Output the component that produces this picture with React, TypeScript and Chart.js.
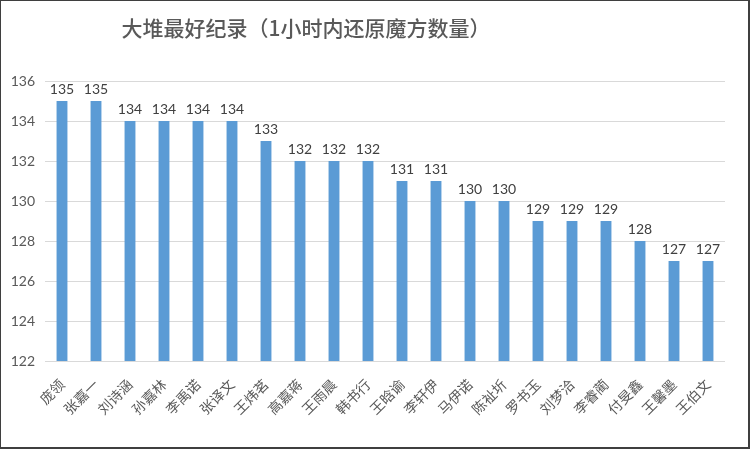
import { useEffect, useRef } from "react";
import { Chart, registerables } from "chart.js";

Chart.register(...registerables);

const chartTitle = "大堆最好纪录（1小时内还原魔方数量）";

const names = [
  "庞领", "张嘉一", "刘诗涵", "孙嘉林", "李禹诺", "张译文", "王炜茗",
  "高嘉蒋", "王雨晨", "韩书行", "王晗谕", "李轩伊", "马伊诺", "陈祉圻",
  "罗书玉", "刘梦洽", "李睿蔺", "付旻鑫", "王馨墨", "王伯文",
];

const cubes = [
  135, 135, 134, 134, 134, 134, 133, 132, 132, 132,
  131, 131, 130, 130, 129, 129, 129, 128, 127, 127,
];

const yMin = 122;
const yMax = 136;
const yStep = 2;

// value labels above bars
const valueLabels = {
  id: "valueLabels",
  afterDatasetsDraw(chart: Chart) {
    const { ctx } = chart;
    const meta = chart.getDatasetMeta(0);
    ctx.save();
    ctx.font = "14px Lato, 'Open Sans', sans-serif";
    ctx.fillStyle = "#404040";
    ctx.textAlign = "center";
    ctx.textBaseline = "bottom";
    meta.data.forEach((bar: any, i: number) => {
      ctx.fillText(String(cubes[i]), bar.x, bar.y - 5);
    });
    ctx.restore();
  },
};

// title sits left of centre in the original
const offsetTitle = {
  id: "offsetTitle",
  afterDraw(chart: Chart) {
    const { ctx } = chart;
    ctx.save();
    ctx.font = "500 21px 'Noto Sans CJK SC', sans-serif";
    ctx.fillStyle = "#595959";
    ctx.textAlign = "center";
    ctx.textBaseline = "middle";
    ctx.fillText(chartTitle, 306, 28);
    ctx.restore();
  },
};

export default function App() {
  const canvasRef = useRef<HTMLCanvasElement>(null);
  const chartRef = useRef<Chart | null>(null);

  useEffect(() => {
    document.body.style.margin = "0";
    if (!canvasRef.current) return;
    if (chartRef.current) chartRef.current.destroy();

    chartRef.current = new Chart(canvasRef.current, {
      type: "bar",
      data: {
        labels: names,
        datasets: [
          {
            data: cubes,
            backgroundColor: "#5B9BD5",
            barPercentage: 0.32,
            categoryPercentage: 1,
          },
        ],
      },
      options: {
        animation: false,
        responsive: true,
        maintainAspectRatio: false,
        layout: { padding: { top: 81, right: 25, bottom: 0, left: 0 } },
        scales: {
          x: {
            grid: { display: false },
            border: { display: false },
            ticks: {
              autoSkip: false,
              minRotation: 45,
              maxRotation: 45,
              padding: 7,
              color: "#595959",
              font: { family: "'Noto Sans CJK SC', sans-serif", size: 14 },
            },
            afterFit: (scale: any) => {
              scale.height = 88;
            },
          },
          y: {
            min: yMin,
            max: yMax,
            ticks: {
              stepSize: yStep,
              padding: 10,
              color: "#595959",
              font: { family: "Lato, 'Open Sans', sans-serif", size: 14 },
            },
            grid: { color: "#D9D9D9", drawTicks: false },
            border: { display: false },
            afterFit: (scale: any) => {
              scale.width = 45;
            },
          },
        },
        plugins: {
          legend: { display: false },
          tooltip: { enabled: false },
        },
      },
      plugins: [valueLabels, offsetTitle],
    });

    return () => {
      if (chartRef.current) {
        chartRef.current.destroy();
        chartRef.current = null;
      }
    };
  }, []);

  return (
    <div style={{ position: "relative", width: 750, height: 449, background: "#fff" }}>
      <canvas ref={canvasRef} />
      <div
        style={{
          position: "absolute",
          inset: 0,
          boxSizing: "border-box",
          borderStyle: "solid",
          borderColor: "#3f3f3f",
          borderWidth: "1px 2px 2px 1px",
          pointerEvents: "none",
        }}
      />
    </div>
  );
}
